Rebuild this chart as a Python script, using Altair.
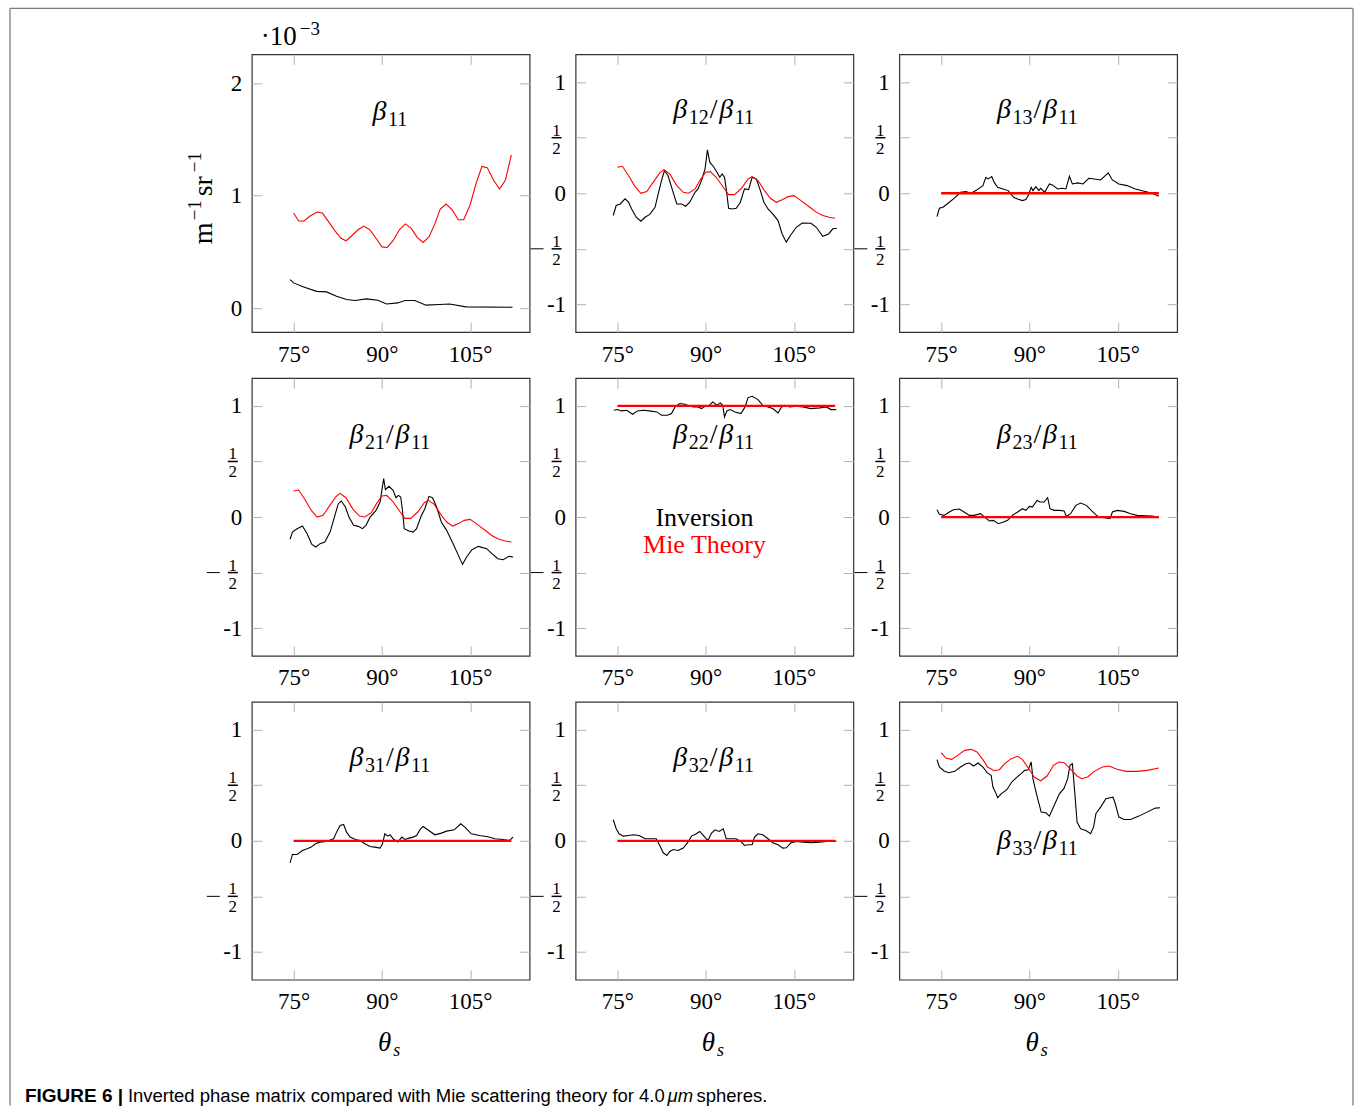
import altair as alt
import pandas as pd

# ---------------- data ----------------
# beta11 (units 1e-3 m^-1 sr^-1)
b11_inv_t = [74.4, 75, 76.6, 78.9, 80.6, 82.3, 84, 85.4, 87.4, 89.3, 90.8, 92.7, 93.9, 95.6, 97.5, 99.8, 101.5, 104.3, 112.2]
b11_inv_v = [0.254, 0.225, 0.19, 0.15, 0.145, 0.107, 0.077, 0.068, 0.083, 0.071, 0.038, 0.047, 0.068, 0.068, 0.027, 0.033, 0.038, 0.012, 0.009]
b11_mie_t = [75, 75.85, 76.75, 77.8, 79, 79.9, 80.9, 82, 83, 83.9, 84.8, 86, 86.9, 87.9, 89.1, 90, 90.9, 91.9, 93, 94, 95, 96, 97, 98, 99, 99.9, 100.9, 101.9, 103, 103.9, 105, 106, 107, 107.9, 108.95, 110, 111, 112]
b11_mie_v = [0.846, 0.775, 0.775, 0.82, 0.855, 0.846, 0.772, 0.69, 0.624, 0.60, 0.64, 0.70, 0.73, 0.70, 0.615, 0.545, 0.54, 0.60, 0.70, 0.75, 0.71, 0.63, 0.585, 0.633, 0.75, 0.88, 0.926, 0.876, 0.787, 0.787, 0.92, 1.11, 1.26, 1.25, 1.14, 1.06, 1.14, 1.364]

# beta12/beta11
b12_inv_t = [74.3, 74.8, 75.5, 76.3, 76.9, 77.4, 78.2, 79, 79.7, 80.5, 81.4, 82, 82.5, 83, 83.6, 84.3, 85.1, 85.9, 86.6, 87.3, 88.2, 88.7, 89.3, 89.9, 90.3, 90.7, 91.4, 92, 92.4, 92.8, 93.2, 93.5, 93.9, 94.5, 95.2, 95.9, 96.6, 97.3, 97.9, 98.6, 99.2, 99.9, 100.6, 101.4, 102.3, 103, 103.7, 104.4, 105.4, 106.4, 107.9, 108.8, 109.9, 110.9, 111.6, 112.3]
b12_inv_v = [-0.20, -0.11, -0.096, -0.05, -0.08, -0.14, -0.216, -0.252, -0.216, -0.19, -0.126, 0.009, 0.114, 0.204, 0.16, 0.04, -0.096, -0.096, -0.117, -0.081, 0.009, 0.039, 0.114, 0.22, 0.39, 0.28, 0.234, 0.183, 0.144, 0.174, 0.144, 0.039, -0.135, -0.141, -0.135, -0.081, 0.039, 0.033, 0.144, 0.129, 0.039, -0.081, -0.141, -0.186, -0.246, -0.366, -0.44, -0.38, -0.306, -0.267, -0.27, -0.306, -0.387, -0.366, -0.32, -0.315]
b12_mie_t = [75, 75.85, 76.9, 78, 79, 80, 81.1, 82.2, 82.9, 83.9, 85.1, 86.2, 87.1, 88.2, 89, 90, 90.8, 91.8, 93, 93.9, 94.9, 96.1, 97.2, 97.9, 98.9, 100, 101, 102, 103.1, 104, 105, 106.2, 107.7, 108.8, 109.9, 111, 112]
b12_mie_v = [0.234, 0.243, 0.16, 0.06, 0.0, 0.015, 0.10, 0.183, 0.213, 0.174, 0.069, 0.009, 0.0, 0.039, 0.114, 0.19, 0.195, 0.144, 0.054, -0.012, -0.012, 0.045, 0.129, 0.15, 0.114, 0.024, -0.045, -0.081, -0.057, -0.03, -0.021, -0.066, -0.126, -0.17, -0.20, -0.216, -0.225]

# beta13/beta11
b13_inv_t = [74.3, 74.7, 75.3, 76.4, 77.3, 78.3, 79.2, 80.1, 80.9, 82.1, 82.6, 83, 83.6, 84, 84.6, 85.5, 86.4, 87.3, 88, 88.8, 89.4, 89.8, 90.3, 90.6, 91.1, 91.6, 91.9, 92.6, 93.4, 93.9, 94.8, 95.6, 96.2, 96.8, 97.3, 98.2, 99.1, 100.1, 101, 102.1, 103.4, 104.1, 105.2, 106.6, 108, 109.5, 110.9, 112]
b13_inv_v = [-0.21, -0.135, -0.126, -0.081, -0.042, 0.009, 0.015, 0.0, 0.024, 0.069, 0.144, 0.129, 0.15, 0.10, 0.054, 0.039, 0.024, -0.036, -0.051, -0.066, -0.057, -0.021, 0.054, 0.024, 0.06, 0.024, 0.045, 0.009, 0.084, 0.075, 0.039, 0.045, 0.039, 0.153, 0.084, 0.093, 0.084, 0.135, 0.129, 0.12, 0.183, 0.12, 0.084, 0.069, 0.039, 0.018, 0.0, -0.027]

# beta21/beta11
b21_inv_t = [74.4, 74.8, 75.6, 76.5, 77.3, 78.1, 78.8, 79.5, 80.3, 81.2, 82.1, 82.6, 83.1, 83.8, 84.4, 85.2, 86, 86.7, 87.3, 88, 89, 89.7, 90.3, 90.6, 91.2, 91.9, 92.4, 92.8, 93.2, 93.5, 93.8, 94.6, 95.3, 95.9, 96.6, 97.3, 98, 98.6, 99.3, 100.1, 101, 102.1, 103, 103.7, 104.4, 105.3, 106.4, 107.8, 108.7, 109.7, 110.6, 111.6, 112.3]
b21_inv_v = [-0.20, -0.135, -0.105, -0.08, -0.15, -0.246, -0.27, -0.24, -0.225, -0.135, 0.03, 0.12, 0.144, 0.09, 0.0, -0.075, -0.084, -0.105, -0.075, 0.0, 0.06, 0.135, 0.345, 0.246, 0.276, 0.24, 0.174, 0.195, 0.18, 0.06, -0.105, -0.126, -0.135, -0.105, 0.0, 0.075, 0.186, 0.174, 0.09, -0.045, -0.12, -0.24, -0.345, -0.426, -0.36, -0.294, -0.264, -0.285, -0.33, -0.375, -0.384, -0.354, -0.36]

# beta22/beta11
b22_inv_t = [74.4, 75, 75.7, 76.6, 77.6, 78.4, 79.4, 80.5, 81.7, 82.5, 83.5, 84.2, 84.8, 85.6, 86.5, 87.3, 88, 88.7, 89.3, 89.9, 90.5, 91.2, 91.9, 92.5, 92.9, 93.2, 93.6, 94.2, 95, 96, 96.7, 97.2, 97.9, 98.9, 99.7, 100.6, 101.4, 102.3, 102.9, 103.4, 104.3, 105.4, 106.5, 107.9, 109.4, 110.5, 111.3, 112.2]
b22_inv_v = [0.961, 0.967, 0.955, 0.961, 0.925, 0.955, 0.961, 0.955, 0.946, 0.916, 0.916, 0.931, 0.991, 1.021, 1.015, 0.997, 0.991, 0.991, 0.976, 0.997, 0.997, 1.036, 1.006, 1.027, 1.006, 0.90, 0.955, 0.967, 0.946, 0.931, 0.991, 1.075, 1.087, 1.057, 1.006, 0.991, 0.976, 0.937, 0.991, 1.006, 0.991, 0.997, 0.991, 0.976, 0.982, 0.991, 0.967, 0.967]

# beta23/beta11
b23_inv_t = [74.3, 74.7, 75.5, 76.4, 77.1, 78.1, 78.9, 79.8, 80.6, 81.7, 82.5, 83.2, 83.9, 84.7, 85.6, 86.3, 87.1, 88, 88.8, 89.4, 90, 90.5, 91.3, 91.8, 92.5, 93.1, 93.5, 94.2, 95.1, 95.9, 96.3, 97, 97.9, 98.7, 99.7, 100.5, 101.6, 102.7, 103.7, 104.1, 104.9, 106.1, 107.2, 108.3, 109.7, 110.9, 112]
b23_inv_v = [0.066, 0.024, 0.015, 0.045, 0.066, 0.072, 0.045, 0.015, 0.015, 0.03, -0.006, -0.036, -0.03, -0.06, -0.045, -0.03, 0.015, 0.045, 0.075, 0.06, 0.096, 0.09, 0.15, 0.135, 0.135, 0.174, 0.075, 0.06, 0.06, 0.054, 0.006, 0.03, 0.105, 0.126, 0.105, 0.06, 0.006, -0.006, -0.015, 0.045, 0.06, 0.051, 0.03, 0.015, 0.012, 0.009, -0.006]

# beta31/beta11
b31_inv_t = [74.4, 74.8, 75.6, 76.5, 77.3, 78, 78.7, 79.5, 80.6, 81.8, 82.3, 82.9, 83.5, 84, 84.6, 85.5, 86.3, 87.1, 88, 88.8, 89.7, 90.1, 90.5, 91, 91.4, 91.9, 92.7, 93.4, 93.9, 94.6, 95.3, 95.9, 96.5, 97, 97.8, 99, 100.1, 101, 102.3, 103.4, 104.1, 105.2, 106.6, 108, 109.2, 110.6, 111.7, 112.3]
b31_inv_v = [-0.198, -0.123, -0.123, -0.087, -0.072, -0.057, -0.027, -0.012, -0.006, 0.018, 0.078, 0.138, 0.147, 0.078, 0.033, 0.012, 0.003, -0.027, -0.051, -0.057, -0.066, -0.027, 0.063, 0.042, 0.054, 0.018, -0.012, 0.033, 0.012, 0.024, 0.033, 0.048, 0.102, 0.129, 0.099, 0.054, 0.069, 0.087, 0.099, 0.153, 0.123, 0.063, 0.048, 0.036, 0.018, 0.012, 0.003, 0.033]

# beta32/beta11
b32_inv_t = [74.3, 74.8, 75.3, 76, 76.9, 77.7, 78.7, 79.7, 80.5, 81.6, 82.2, 82.8, 83.4, 83.9, 84.5, 85.3, 86.2, 87, 87.6, 88.4, 89, 89.6, 90, 90.4, 91, 91.6, 92.3, 93, 93.5, 94.4, 95.2, 96.1, 96.6, 97.2, 97.9, 98.3, 98.9, 99.7, 100.6, 101.4, 102.3, 103.1, 103.7, 104.5, 105.4, 106.5, 107.9, 109.4, 110.5, 111.6, 112.2]
b32_inv_v = [0.189, 0.108, 0.063, 0.042, 0.048, 0.054, 0.048, 0.018, 0.018, 0.018, -0.042, -0.108, -0.132, -0.096, -0.078, -0.087, -0.066, -0.012, 0.042, 0.063, 0.084, 0.048, 0.024, 0.003, 0.069, 0.099, 0.084, 0.108, 0.018, 0.018, 0.018, -0.012, -0.042, -0.036, -0.036, 0.033, 0.063, 0.054, 0.018, -0.018, -0.036, -0.066, -0.063, -0.018, -0.006, -0.012, -0.018, -0.012, -0.006, -0.006, -0.003]

# beta33/beta11
b33_inv_t = [74.3, 74.7, 75.5, 76.3, 77.3, 78.3, 79.2, 79.8, 80.5, 81.3, 82.1, 82.8, 83.5, 83.8, 84.3, 84.6, 85.2, 86.2, 87, 87.8, 88.6, 89.2, 89.8, 90.3, 90.6, 91.2, 92, 92.8, 93.4, 94.2, 95.1, 95.9, 96.5, 96.9, 97.3, 97.7, 98.1, 98.7, 99.6, 100.4, 100.9, 101.3, 102.1, 103, 103.7, 104.2, 104.6, 105.2, 106.1, 107.2, 108.6, 110, 111.4, 112.2]
b33_inv_v = [0.73, 0.664, 0.628, 0.613, 0.625, 0.664, 0.694, 0.70, 0.673, 0.70, 0.664, 0.613, 0.589, 0.484, 0.429, 0.387, 0.423, 0.462, 0.529, 0.568, 0.604, 0.634, 0.64, 0.709, 0.559, 0.423, 0.258, 0.252, 0.222, 0.318, 0.423, 0.474, 0.559, 0.679, 0.694, 0.438, 0.168, 0.108, 0.093, 0.063, 0.123, 0.243, 0.303, 0.378, 0.387, 0.393, 0.333, 0.213, 0.192, 0.192, 0.222, 0.258, 0.294, 0.297]
b33_mie_t = [75, 75.8, 76.8, 77.8, 79, 80.1, 81.1, 82.1, 82.9, 84, 84.9, 85.8, 86.9, 88, 88.8, 89.7, 90.8, 91.9, 93, 94.1, 95, 95.9, 96.9, 98.1, 98.9, 99.9, 101, 102.4, 103.5, 104.9, 106.4, 108.3, 110, 112]
b33_mie_v = [0.793, 0.745, 0.733, 0.769, 0.814, 0.823, 0.799, 0.73, 0.664, 0.631, 0.64, 0.694, 0.739, 0.76, 0.733, 0.664, 0.574, 0.54, 0.583, 0.679, 0.709, 0.703, 0.649, 0.583, 0.559, 0.574, 0.625, 0.664, 0.673, 0.643, 0.625, 0.625, 0.634, 0.655]

# Mie theory values for the elements that are flat
flat_t = [75, 112]
zero_v = [0, 0]
one_v = [1, 1]

x_ticks = [75, 90, 105]
ratio_ticks = [-1, -0.5, 0, 0.5, 1]
b11_ticks = [0, 1, 2]

# panel titles: (first index, second index) pairs
titles = {
    "b11": ("11", None), "b12": ("12", "11"), "b13": ("13", "11"),
    "b21": ("21", "11"), "b22": ("22", "11"), "b23": ("23", "11"),
    "b31": ("31", "11"), "b32": ("32", "11"), "b33": ("33", "11"),
}

# ---------------- styling ----------------
SERIF = "Liberation Serif"
SANS = "Liberation Sans"
W = H = 278
TICK = "#b3b3b3"
X_DOMAIN = [67.9, 115.1]
RATIO_DOMAIN = [-1.25, 1.25]
B11_DOMAIN = [-0.213, 2.257]

ONE = pd.DataFrame({"k": [0]})


def txt(text, x, y, size, color="black", style="normal", weight="normal",
        font=SERIF, align="center", baseline="alphabetic", angle=0):
    return alt.Chart(ONE).mark_text(
        text=text, font=font, fontSize=size, fontStyle=style, fontWeight=weight,
        color=color, align=align, baseline=baseline, angle=angle
    ).encode(x=alt.value(x), y=alt.value(y))


def seq(parts, x0, y0, angle=0):
    """parts: (text, size, style, raise, advance). Lays out left-to-right
    (or bottom-to-top when angle=270)."""
    out = []
    pos = 0.0
    for text, size, style, rise, adv in parts:
        if angle == 0:
            out.append(txt(text, x0 + pos, y0 - rise, size, style=style, align="left"))
        else:
            out.append(txt(text, x0 - rise, y0 - pos, size, style=style, align="left",
                           angle=270))
        pos += adv
    return out


def beta_title(key, cx, by):
    a, b = titles[key]
    parts = [("β", 28, "italic", 0, 15.5), (a, 20, "normal", -6, 21)]
    if b:
        parts += [("/", 28, "normal", 0, 9.5), ("β", 28, "italic", 0, 15.5),
                  (b, 20, "normal", -6, 21)]
    total = sum(p[4] for p in parts)
    return seq(parts, cx - total / 2, by)


def panel(inv_t, inv_v, mie_t, mie_v, mie_w, key, title_y, kind="ratio",
          bottom=False, extra=None):
    xs = alt.Scale(domain=X_DOMAIN, nice=False, zero=False)
    if kind == "b11":
        ys = alt.Scale(domain=B11_DOMAIN, nice=False, zero=False)
        yt = b11_ticks
        lab = "datum.label"
    else:
        ys = alt.Scale(domain=RATIO_DOMAIN, nice=False, zero=False)
        yt = ratio_ticks
        lab = "datum.value == 1 ? '1' : datum.value == 0 ? '0' : datum.value == -1 ? '-1' : ''"

    inv_df = pd.DataFrame({"theta": inv_t, "v": inv_v})
    mie_df = pd.DataFrame({"theta": mie_t, "v": mie_v})

    inv = alt.Chart(inv_df).mark_line(color="black", strokeWidth=1.1, clip=True).encode(
        x=alt.X("theta:Q", scale=xs, axis=alt.Axis(
            orient="bottom", offset=-10, tickSize=10, domain=False, grid=False,
            values=x_ticks, labelExpr="datum.value + '°'", labelPadding=11,
            title=None, labelFlush=False, labelOverlap=False)),
        y=alt.Y("v:Q", scale=ys, axis=alt.Axis(
            orient="left", offset=-10, tickSize=10, domain=False, grid=False,
            values=yt, labelExpr=lab, labelPadding=10, title=None,
            labelFlush=False, labelOverlap=False)),
        order="theta:Q",
    )
    mie = alt.Chart(mie_df).mark_line(color="#ff0000", strokeWidth=mie_w, clip=True).encode(
        x=alt.X("theta:Q", scale=xs, axis=alt.Axis(
            orient="top", offset=-10, tickSize=10, domain=False, grid=False,
            values=x_ticks, labels=False, title=None)),
        y=alt.Y("v:Q", scale=ys, axis=alt.Axis(
            orient="right", offset=-10, tickSize=10, domain=False, grid=False,
            values=yt, labels=False, title=None)),
        order="theta:Q",
    )
    layers = [inv, mie]

    if kind == "ratio":
        frac = pd.DataFrame({"y": [0.5, -0.5]})
        yy = alt.Y("y:Q", scale=ys, axis=None)
        layers.append(alt.Chart(frac).mark_text(text="1", font=SERIF, fontSize=17, dy=-7,
                                                baseline="middle", align="center")
                      .encode(x=alt.value(-19), y=yy))
        layers.append(alt.Chart(frac).mark_text(text="2", font=SERIF, fontSize=17, dy=11,
                                                baseline="middle", align="center")
                      .encode(x=alt.value(-19), y=yy))
        layers.append(alt.Chart(frac).mark_rule(color="black", strokeWidth=1.5)
                      .encode(x=alt.value(-24), x2=alt.value(-14), y=yy))
        neg = pd.DataFrame({"y": [-0.5]})
        layers.append(alt.Chart(neg).mark_rule(color="black", strokeWidth=1)
                      .encode(x=alt.value(-45), x2=alt.value(-32), y=yy))

    layers.extend(beta_title(key, 139, title_y))

    if bottom:
        layers.append(txt("θ", 133, 349, 27, style="italic"))
        layers.append(txt("s", 145, 354, 18, style="italic"))

    if extra:
        layers.extend(extra)

    return alt.layer(*layers).resolve_axis(x="independent", y="independent").properties(
        width=W, height=H)


# decorations for the first panel (frame, units, caption)
frame_col = "#7a7a7a"
deco = [
    alt.Chart(ONE).mark_rule(color=frame_col, strokeWidth=1.3).encode(
        x=alt.value(-242), y=alt.value(-46), y2=alt.value(1052)),
    alt.Chart(ONE).mark_rule(color=frame_col, strokeWidth=1.3).encode(
        x=alt.value(1102), y=alt.value(-46), y2=alt.value(1052)),
    alt.Chart(ONE).mark_rule(color=frame_col, strokeWidth=1.3).encode(
        x=alt.value(-242), x2=alt.value(1102), y=alt.value(-46)),
    txt("·10", 9, -9, 27, align="left"),
    txt("−3", 48, -19, 19, align="left"),
    txt("FIGURE 6 |", -227, 1048, 19, font=SANS, weight="bold", align="left"),
    txt("Inverted phase matrix compared with Mie scattering theory for 4.0", -124, 1048, 18.5,
        font=SANS, align="left"),
    txt("μm", 416, 1048, 18.5, font=SANS, style="italic", align="left"),
    txt("spheres.", 445, 1048, 18.5, font=SANS, align="left"),
]
# y-axis unit label, written bottom-to-top
deco += seq([("m", 28, "normal", 0, 24), ("−1", 19, "normal", 11, 24),
             ("sr", 28, "normal", 0, 24), ("−1", 19, "normal", 11, 22)],
            -40, 190, angle=270)

legend = [
    txt("Inversion", 129, 148, 26, baseline="alphabetic"),
    txt("Mie Theory", 129, 175, 26, color="#ff0000", baseline="alphabetic"),
]

p11 = panel(b11_inv_t, b11_inv_v, b11_mie_t, b11_mie_v, 1.1, "b11", 66, kind="b11", extra=deco)
p12 = panel(b12_inv_t, b12_inv_v, b12_mie_t, b12_mie_v, 1.1, "b12", 64)
p13 = panel(b13_inv_t, b13_inv_v, flat_t, zero_v, 2.3, "b13", 64)
p21 = panel(b21_inv_t, b21_inv_v, b12_mie_t, b12_mie_v, 1.1, "b21", 65)
p22 = panel(b22_inv_t, b22_inv_v, flat_t, one_v, 2.3, "b22", 65, extra=legend)
p23 = panel(b23_inv_t, b23_inv_v, flat_t, zero_v, 2.3, "b23", 65)
p31 = panel(b31_inv_t, b31_inv_v, flat_t, zero_v, 2.3, "b31", 64, bottom=True)
p32 = panel(b32_inv_t, b32_inv_v, flat_t, zero_v, 2.3, "b32", 64, bottom=True)
p33 = panel(b33_inv_t, b33_inv_v, b33_mie_t, b33_mie_v, 1.1, "b33", 147, bottom=True)

chart = alt.concat(
    p11, p12, p13, p21, p22, p23, p31, p32, p33,
    columns=3, spacing=46, bounds="flush",
).properties(
    padding={"left": 8, "top": 6, "right": 0, "bottom": 0},
    background="white",
).configure_view(
    stroke="#333333", strokeWidth=1.2
).configure_axis(
    labelFont=SERIF, labelFontSize=23, labelColor="black",
    tickColor=TICK, tickWidth=1,
)

chart.save("out.html", embed_options={"renderer": "svg", "actions": False})
